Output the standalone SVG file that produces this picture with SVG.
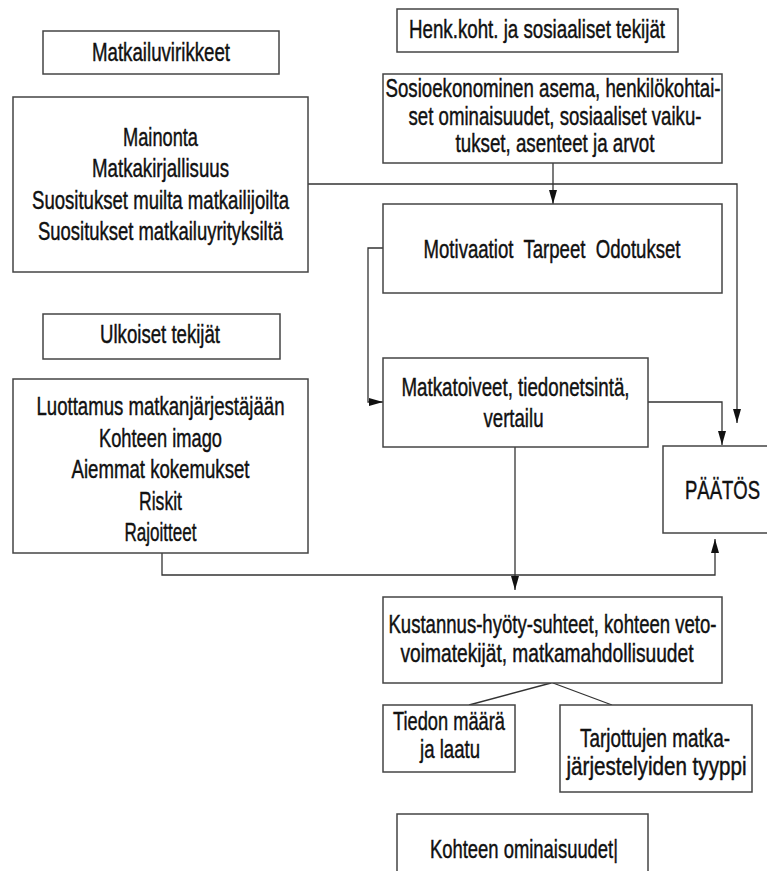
<svg xmlns="http://www.w3.org/2000/svg" width="767" height="871" viewBox="0 0 767 871">
<style>
.box{fill:#fff;stroke:#444;stroke-width:1.5}
.t{font-family:"Liberation Sans",Arial,sans-serif;font-size:26px;fill:#111;stroke:#111;stroke-width:0.45;text-anchor:middle;white-space:pre}
.c{fill:none;stroke:#333;stroke-width:1.3}
</style>
<defs>
<marker id="arr" markerUnits="userSpaceOnUse" markerWidth="14" markerHeight="9" refX="14" refY="4" orient="auto">
<path d="M0,0 L14,4 L0,8 z" fill="#111"/>
</marker>
</defs>
<rect width="767" height="871" fill="#fff"/>
<g id="connectors">
<polyline class="c" points="308,184 737,184 737,423" marker-end="url(#arr)"/>
<polyline class="c" points="553,163 553,204" marker-end="url(#arr)"/>
<polyline class="c" points="383,248 368,248 368,402 383,402" marker-end="url(#arr)"/>
<polyline class="c" points="648,402 722,402 722,445" marker-end="url(#arr)"/>
<polyline class="c" points="515,447 515,590" marker-end="url(#arr)"/>
<polyline class="c" points="162,553 162,575 715,575 715,539" marker-end="url(#arr)"/>
<line class="c" x1="551" y1="683" x2="469" y2="705"/>
<line class="c" x1="553" y1="683" x2="612" y2="705"/>
</g>
<g id="n-matkailuvirikkeet">
<rect class="box" x="43" y="31" width="236" height="43"/>
<text class="t" transform="translate(161,61) scale(0.72,1)" textLength="191.7" lengthAdjust="spacingAndGlyphs">Matkailuvirikkeet</text>
</g>
<g id="n-virikkeet-list">
<rect class="box" x="13" y="97" width="295" height="175"/>
<text class="t" transform="translate(160.5,146) scale(0.72,1)" textLength="104.2" lengthAdjust="spacingAndGlyphs">Mainonta</text>
<text class="t" transform="translate(160.5,177) scale(0.72,1)" textLength="190.3" lengthAdjust="spacingAndGlyphs">Matkakirjallisuus</text>
<text class="t" transform="translate(160.5,209) scale(0.72,1)" textLength="356.9" lengthAdjust="spacingAndGlyphs">Suositukset muilta matkailijoilta</text>
<text class="t" transform="translate(160.5,240) scale(0.72,1)" textLength="340.3" lengthAdjust="spacingAndGlyphs">Suositukset matkailuyrityksiltä</text>
</g>
<g id="n-henk">
<rect class="box" x="397" y="9" width="281" height="43"/>
<text class="t" transform="translate(537,38) scale(0.72,1)" textLength="355.6" lengthAdjust="spacingAndGlyphs">Henk.koht. ja sosiaaliset tekijät</text>
</g>
<g id="n-sosio">
<rect class="box" x="383" y="74" width="339" height="89"/>
<text class="t" transform="translate(553,97) scale(0.72,1)" textLength="465.3" lengthAdjust="spacingAndGlyphs">Sosioekonominen asema, henkilökohtai-</text>
<text class="t" transform="translate(555,124.5) scale(0.72,1)" textLength="406.9" lengthAdjust="spacingAndGlyphs">set ominaisuudet, sosiaaliset vaiku-</text>
<text class="t" transform="translate(555,152) scale(0.72,1)" textLength="276.4" lengthAdjust="spacingAndGlyphs">tukset, asenteet ja arvot</text>
</g>
<g id="n-motivaatiot">
<rect class="box" x="383" y="204" width="339" height="89"/>
<text class="t" transform="translate(552,258) scale(0.72,1)" textLength="356.9" lengthAdjust="spacingAndGlyphs">Motivaatiot  Tarpeet  Odotukset</text>
</g>
<g id="n-ulkoiset">
<rect class="box" x="43" y="314" width="237" height="45"/>
<text class="t" transform="translate(160,343) scale(0.72,1)" textLength="166.7" lengthAdjust="spacingAndGlyphs">Ulkoiset tekijät</text>
</g>
<g id="n-ulkoiset-list">
<rect class="box" x="13" y="379" width="295" height="174"/>
<text class="t" transform="translate(160.5,415) scale(0.72,1)" textLength="344.4" lengthAdjust="spacingAndGlyphs">Luottamus matkanjärjestäjään</text>
<text class="t" transform="translate(160.5,446.5) scale(0.72,1)" textLength="170.8" lengthAdjust="spacingAndGlyphs">Kohteen imago</text>
<text class="t" transform="translate(160.5,478) scale(0.72,1)" textLength="247.2" lengthAdjust="spacingAndGlyphs">Aiemmat kokemukset</text>
<text class="t" transform="translate(160.5,509.5) scale(0.72,1)" textLength="59.7" lengthAdjust="spacingAndGlyphs">Riskit</text>
<text class="t" transform="translate(160.5,541) scale(0.72,1)" textLength="100" lengthAdjust="spacingAndGlyphs">Rajoitteet</text>
</g>
<g id="n-matkatoiveet">
<rect class="box" x="383" y="358" width="265" height="89"/>
<text class="t" transform="translate(515.5,396) scale(0.72,1)" textLength="316.7" lengthAdjust="spacingAndGlyphs">Matkatoiveet, tiedonetsintä,</text>
<text class="t" transform="translate(513.5,427) scale(0.72,1)" textLength="83.3" lengthAdjust="spacingAndGlyphs">vertailu</text>
</g>
<g id="n-paatos">
<rect class="box" x="663" y="446" width="120" height="87"/>
<text class="t" transform="translate(722.5,499) scale(0.72,1)" textLength="104.2" lengthAdjust="spacingAndGlyphs">PÄÄTÖS</text>
</g>
<g id="n-kustannus">
<rect class="box" x="383" y="597" width="339" height="86"/>
<text class="t" transform="translate(552.5,633) scale(0.72,1)" textLength="455.6" lengthAdjust="spacingAndGlyphs">Kustannus-hyöty-suhteet, kohteen veto-</text>
<text class="t" transform="translate(547,661.5) scale(0.72,1)" textLength="406.9" lengthAdjust="spacingAndGlyphs">voimatekijät, matkamahdollisuudet</text>
</g>
<g id="n-tiedon">
<rect class="box" x="383" y="705" width="132" height="67"/>
<text class="t" transform="translate(449,730) scale(0.72,1)" textLength="155.6" lengthAdjust="spacingAndGlyphs">Tiedon määrä</text>
<text class="t" transform="translate(450,758) scale(0.72,1)" textLength="83.3" lengthAdjust="spacingAndGlyphs">ja laatu</text>
</g>
<g id="n-tarjottujen">
<rect class="box" x="560" y="705" width="192" height="87"/>
<text class="t" transform="translate(655,747) scale(0.72,1)" textLength="208.3" lengthAdjust="spacingAndGlyphs">Tarjottujen matka-</text>
<text class="t" transform="translate(656.5,775) scale(0.72,1)" textLength="250" lengthAdjust="spacingAndGlyphs">järjestelyiden tyyppi</text>
</g>
<g id="n-kohteen">
<rect class="box" x="397" y="814" width="251" height="80"/>
<text class="t" transform="translate(524,858) scale(0.72,1)" textLength="261.1" lengthAdjust="spacingAndGlyphs">Kohteen ominaisuudet|</text>
</g>
</svg>
